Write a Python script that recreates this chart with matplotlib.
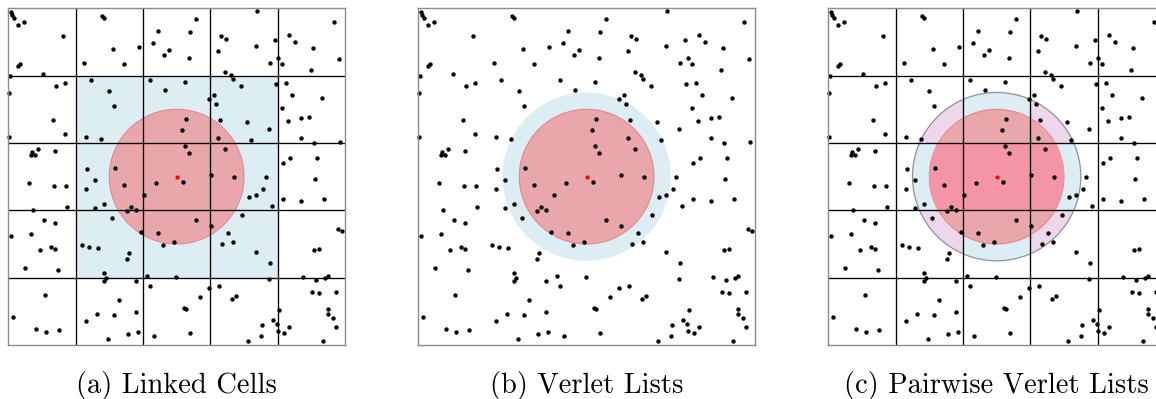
import numpy as np
import matplotlib
matplotlib.use('Agg')
import matplotlib.pyplot as plt
from matplotlib.patches import Circle, Rectangle

# particle positions, measured on a 0..1010 grid (origin at 25, 202 per cell, y downwards)
particle_x = [
    33, 37, 41, 53, 73, 190, 55, 59, 128, 305,
    312, 340, 252, 373, 416, 474, 460, 507, 491, 569,
    588, 567, 663, 677, 654, 675, 693, 772, 769, 809,
    826, 834, 847, 867, 884, 940, 933, 1002, 1017,
    31, 27, 167, 194, 160, 195, 27, 274, 326, 342,
    258, 302, 450, 494, 555, 558, 545, 628, 643, 647,
    698, 724, 659, 655, 742, 754, 807, 827, 858, 876,
    966, 846, 863, 903, 926, 904, 941, 1019,
    95, 93, 105, 115, 165, 86, 163, 197, 201, 100,
    262, 285, 257, 312, 286, 346, 372, 381, 392, 408,
    431, 468, 556, 566, 548, 632, 675, 702, 748, 769,
    790, 799, 815, 848, 869, 952, 946, 849, 904, 971,
    133, 165, 33, 92, 119, 154, 165, 74, 175, 245,
    268, 294, 335, 388, 382, 312, 423, 475, 490, 523,
    589, 632, 685, 666, 698, 727, 769, 810, 941, 956,
    1014, 1025,
    319, 312, 135, 39, 109, 139, 176, 356, 290, 342,
    257, 323, 407, 442, 528, 450, 626, 658, 599, 407,
    552, 557, 384, 415, 463, 569, 806, 908, 949, 975,
    985, 709, 697, 935, 957, 1008, 838, 983, 985, 999,
    820, 830, 785, 866, 1008, 833, 852, 784, 744, 968,
]
particle_y = [
    37, 46, 54, 75, 67, 108, 198, 192, 223, 48,
    55, 147, 189, 191, 140, 92, 129, 149, 166, 97,
    58, 173, 108, 117, 154, 215, 225, 33, 137, 190,
    119, 173, 193, 106, 127, 145, 210, 65, 178,
    229, 280, 258, 250, 360, 402, 410, 240, 273, 319,
    411, 417, 239, 269, 246, 356, 390, 296, 286, 312,
    237, 257, 359, 413, 365, 420, 386, 252, 248, 285,
    294, 324, 362, 355, 350, 415, 429, 427,
    457, 465, 464, 447, 452, 550, 558, 557, 621, 629,
    507, 541, 567, 611, 625, 505, 554, 634, 620, 631,
    586, 549, 439, 458, 547, 524, 448, 530, 592, 585,
    567, 531, 617, 490, 474, 473, 537, 596, 604, 596,
    660, 670, 707, 702, 751, 740, 747, 805, 809, 735,
    742, 745, 654, 759, 778, 819, 697, 698, 736, 727,
    661, 679, 700, 732, 726, 644, 755, 789, 749, 746,
    688, 694,
    833, 843, 886, 952, 986, 997, 991, 900, 942, 946,
    963, 1017, 843, 829, 831, 859, 865, 857, 892, 935,
    924, 928, 1001, 997, 1007, 998, 837, 831, 839, 835,
    829, 887, 898, 877, 878, 875, 931, 926, 942, 955,
    960, 972, 975, 980, 982, 994, 998, 1008, 1023, 1024,
]

# simulation box in cell units
n_cells = 5
cutoff = 1.0
skin = 0.25
center = (2.5, 2.5)
captions = ['(a) Linked Cells', '(b) Verlet Lists', '(c) Pairwise Verlet Lists']

BLUE = '#dcedf4'
RED = '#e9a7ab'
RED_EDGE = '#e5868e'
LILAC = '#eed6eb'
PINK = '#f495a6'

xs = (np.array(particle_x) - 25) / 202.0
ys = n_cells - (np.array(particle_y) - 25) / 202.0


def _base(ax, grid):
    ax.set_xlim(0, n_cells)
    ax.set_ylim(0, n_cells)
    ax.set_xticks([])
    ax.set_yticks([])
    for s in ax.spines.values():
        s.set_color('#8c8c8c')
        s.set_linewidth(1.0)
        s.set_zorder(6)
    if grid:
        for k in range(1, n_cells):
            ax.axvline(k, color='black', lw=0.95, zorder=3)
            ax.axhline(k, color='black', lw=0.95, zorder=3)
    ax.scatter(xs, ys, s=10, color='black', linewidths=0, zorder=4, clip_on=False)
    ax.scatter([center[0]], [center[1]], s=9, color='red', linewidths=0, zorder=5)


def _inner_circle(ax):
    ax.add_patch(Circle(center, cutoff, fc=RED, ec=RED_EDGE, lw=0.8, zorder=2))


fig = plt.figure(figsize=(11.56, 3.99), dpi=100)
W, H = 1156.0, 399.0
size = 336.7
lefts = [8.3, 418.3, 828.3]
axes = [fig.add_axes([l / W, (H - 8.3 - size) / H, size / W, size / H]) for l in lefts]

# linked cells: neighbour cells shaded
ax = axes[0]
ax.add_patch(Rectangle((1, 1), 3, 3, fc=BLUE, ec='none', zorder=1))
_inner_circle(ax)
_base(ax, grid=True)

# verlet lists: cutoff + skin sphere
ax = axes[1]
ax.add_patch(Circle(center, cutoff + skin, fc=BLUE, ec='none', zorder=1))
_inner_circle(ax)
_base(ax, grid=False)

# pairwise verlet lists
ax = axes[2]
ax.add_patch(Circle(center, cutoff + skin, fc=BLUE, ec='none', zorder=1))
for cx, cy in [(0, 0), (3, 0), (0, 3), (3, 3)]:
    corner = Rectangle((cx, cy), 2, 2, transform=ax.transData)
    c = Circle(center, cutoff + skin, fc=LILAC, ec='none', zorder=1.1)
    ax.add_patch(c)
    c.set_clip_path(corner)
ax.add_patch(Circle(center, cutoff + skin, fill=False, ec='#8e909c', lw=0.9, zorder=2.5))
_inner_circle(ax)
row = Rectangle((0, 2), n_cells, 1, transform=ax.transData)
p = Circle(center, cutoff, fc=PINK, ec='none', zorder=2.1)
ax.add_patch(p)
p.set_clip_path(row)
_base(ax, grid=True)

for l, cap in zip(lefts, captions):
    fig.text((l + size / 2) / W, 6 / H, cap, ha='center', va='baseline',
             fontsize=20.5, family='cmr10')

fig.savefig('out.png', dpi=100)
